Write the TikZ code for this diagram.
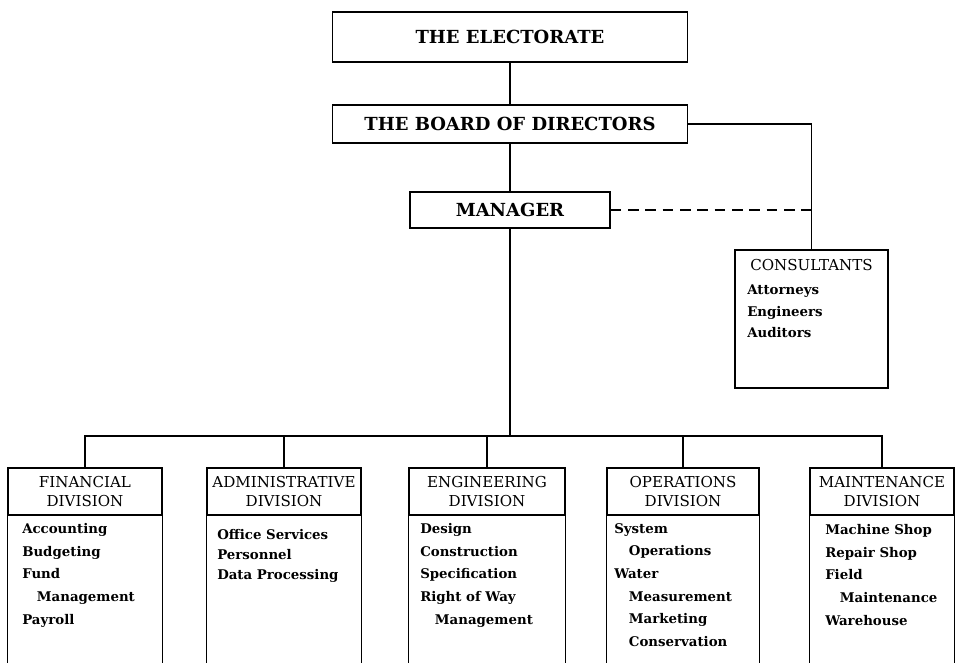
\documentclass[tikz,border=0pt]{standalone}
\usepackage{fontspec}
\setmainfont{DejaVu Serif}
\usepackage{tikz}
\newcommand*{\tpfnt}{\fontsize{13.5}{16}\selectfont\bfseries}
\newcommand*{\hdfnt}{\fontsize{11.3}{14.5}\selectfont}
\newcommand*{\lsfnt}{\fontsize{10}{17}\selectfont\bfseries}
\newcommand*{\sbi}{\hspace*{11pt}}
\tikzset{
    link/.style={line width=1pt},
    topbox/.style={draw, line width=1pt, font=\tpfnt, inner sep=0pt},
    divhead/.style={draw, line width=1pt, font=\hdfnt, align=center, inner sep=0pt, minimum height=35.25pt},
    divlist/.style={anchor=north west, font=\lsfnt, align=left, inner sep=0pt}
}

\begin{document}
\begin{tikzpicture}[x=.75pt, y=-.75pt]
    \useasboundingbox(0, 0) rectangle (956, 663);
    \node[topbox, minimum width=266pt, minimum height=37.5pt](elect) at(510, 37){THE ELECTORATE};
    \node[topbox, minimum width=266pt, minimum height=28.5pt](board) at(510, 124){THE BOARD OF DIRECTORS};
    \node[topbox, minimum width=150pt, minimum height=27pt](mgr) at(510, 210){MANAGER};
    \node[draw, line width=1pt, minimum width=114.75pt, minimum height=103.5pt](cons) at(811.5, 319){};
    \node[font=\hdfnt, inner sep=0pt](conshd) at(811.5, 265){CONSULTANTS};
    \node[divlist, font=\fontsize{10}{16}\selectfont\bfseries](conslist) at(747, 285){Attorneys\\Engineers\\Auditors};
    \draw[link](elect) -- (board);
    \draw[link](board) -- (mgr);
    \draw[link](board.east) -| (cons.north);
    \draw[link, dash pattern=on 8pt off 5pt](mgr.east) -- (mgr.east -| cons.north);
    % divisions
    \node[divhead, minimum width=115.5pt](fin) at(85, 491.5){FINANCIAL\\DIVISION};
    \node[divhead, minimum width=115.5pt](adm) at(284, 491.5){ADMINISTRATIVE\\DIVISION};
    \node[divhead, minimum width=117pt](eng) at(487, 491.5){ENGINEERING\\DIVISION};
    \node[divhead, minimum width=114pt](ops) at(683, 491.5){OPERATIONS\\DIVISION};
    \node[divhead, minimum width=108pt](mnt) at(882, 491.5){MAINTENANCE\\DIVISION};
    \coordinate(bus) at(510, 436);
    \coordinate(bot) at(0, 663);
    \draw[link](mgr) -- (bus);
    \draw[link](fin.north) |- (bus) -| (mnt.north);
    \draw[link](adm.north) -- (adm.north |- bus);
    \draw[link](eng.north) -- (eng.north |- bus);
    \draw[link](ops.north) -- (ops.north |- bus);
    \foreach \d in {fin, adm, eng, ops, mnt}{
        \draw[link](\d.south west) -- (\d.south west |- bot);
        \draw[link](\d.south east) -- (\d.south east |- bot);
    }
    \node[divlist](finlist) at(22, 523){Accounting\\Budgeting\\Fund\\\sbi Management\\Payroll};
    \node[divlist, font=\fontsize{10}{15}\selectfont\bfseries](admlist) at(217, 529){Office Services\\Personnel\\Data Processing};
    \node[divlist](englist) at(420, 523){Design\\Construction\\Specification\\Right of Way\\\sbi Management};
    \node[divlist](opslist) at(614, 523){System\\\sbi Operations\\Water\\\sbi Measurement\\\sbi Marketing\\\sbi Conservation};
    \node[divlist](mntlist) at(825, 524){Machine Shop\\Repair Shop\\Field\\\sbi Maintenance\\Warehouse};
\end{tikzpicture}
\end{document}
